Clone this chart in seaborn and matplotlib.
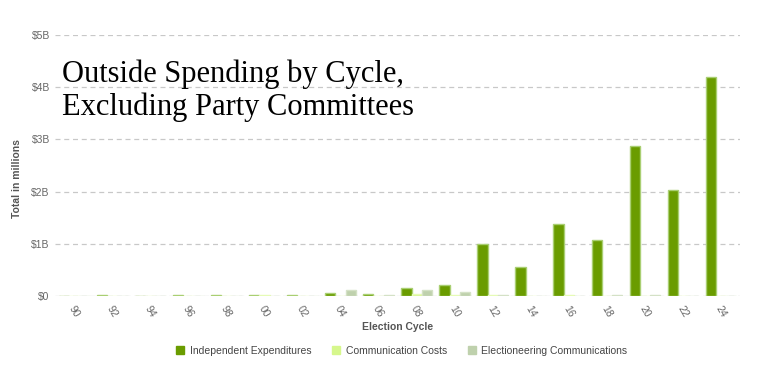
import pandas as pd
import seaborn as sns
import matplotlib.pyplot as plt
from matplotlib.patches import Patch

# values in billions of dollars
cycles = ['90', '92', '94', '96', '98', '00', '02', '04', '06', '08',
          '10', '12', '14', '16', '18', '20', '22', '24']
independent_exp = [0.004, 0.010, 0.006, 0.010, 0.009, 0.016, 0.014, 0.063, 0.037, 0.144,
                   0.205, 1.005, 0.550, 1.385, 1.065, 2.880, 2.025, 4.190]
communication_costs = [0.002, 0.004, 0.003, 0.004, 0.003, 0.010, 0.004, 0.006, 0.008, 0.045,
                       0.012, 0.020, 0.008, 0.022, 0.006, 0.008, 0.004, 0.006]
electioneering = [0.0, 0.0, 0.0, 0.0, 0.0, 0.0, 0.0, 0.107, 0.015, 0.116,
                  0.080, 0.010, 0.002, 0.003, 0.010, 0.014, 0.002, 0.002]
series_names = ['Independent Expenditures', 'Communication Costs', 'Electioneering Communications']
colors = ['#6a9c00', '#d6f78c', '#bfd1ad']
edges = ['#a9cf72', '#e6fbb6', '#d4e1c6']

rows = []
for name, vals in zip(series_names, [independent_exp, communication_costs, electioneering]):
    for c, v in zip(cycles, vals):
        rows.append({'cycle': c, 'type': name, 'amount': v})
df = pd.DataFrame(rows)

sns.set_style('white')
plt.rcParams['font.family'] = ['Liberation Sans', 'DejaVu Sans']

fig = plt.figure(figsize=(7.58, 3.69), dpi=100)
ax = fig.add_axes([0.073, 0.198, 0.903, 0.707])

sns.barplot(data=df, x='cycle', y='amount', hue='type', order=cycles,
            hue_order=series_names, palette=colors, ax=ax, legend=False,
            width=0.8, saturation=1, zorder=3)

# lighter outline on bars
for i, container in enumerate(ax.containers):
    for bar in container:
        bar.set_edgecolor(edges[i])
        bar.set_linewidth(1)

ax.set_ylim(0, 5)
ax.set_xlim(-0.5, len(cycles) - 0.5)
ax.set_yticks([0, 1, 2, 3, 4, 5])
ax.set_yticklabels(['$0', '$1B', '$2B', '$3B', '$4B', '$5B'], color='#666666', fontsize=7.5)
ax.yaxis.grid(True, linestyle=(0, (4, 3)), color='#c8c8c8', linewidth=0.9, zorder=0)
ax.tick_params(axis='y', length=0, pad=4)
ax.tick_params(axis='x', length=3, color='#cccccc', pad=3)
for lbl in ax.get_xticklabels():
    lbl.set_rotation(-60)
    lbl.set_ha('center')
    lbl.set_va('top')
    lbl.set_color('#666666')
    lbl.set_fontsize(7.5)
sns.despine(ax=ax, left=True, bottom=True)

ax.set_ylabel('Total in millions', fontsize=7.5, fontweight='bold', color='#555555', labelpad=4)
ax.yaxis.set_label_coords(-0.048, 0.45)
ax.set_xlabel('Election Cycle', fontsize=7.5, fontweight='bold', color='#555555', labelpad=2)

ax.text(0.01, 0.905, 'Outside Spending by Cycle,\nExcluding Party Committees',
        transform=ax.transAxes, ha='left', va='top', fontsize=22,
        family=['Liberation Serif', 'DejaVu Serif'], color='#000000', linespacing=1.12)

handles = [Patch(facecolor=c, edgecolor=c) for c in colors]
fig.legend(handles, series_names, loc='center', bbox_to_anchor=(0.53, 0.05), ncol=3,
           frameon=False, fontsize=7.5, handlelength=0.8, handleheight=0.9,
           handletextpad=0.5, columnspacing=2.0, labelcolor='#444444')

fig.savefig('out.png', dpi=100)
